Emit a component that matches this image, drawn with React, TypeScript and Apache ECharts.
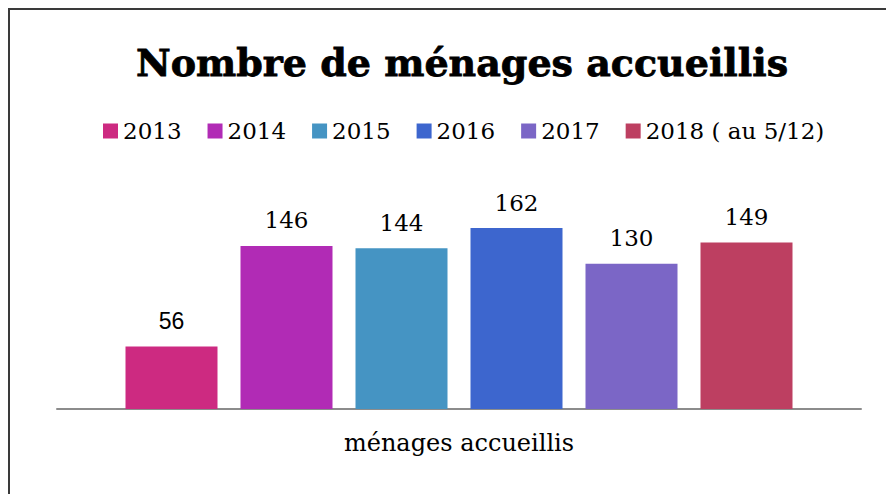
import React, { useEffect, useRef } from "react";
import * as echarts from "echarts";

const TITLE = "Nombre de ménages accueillis";
const CATEGORIES = ["ménages accueillis"];
const SERIES_NAMES = ["2013", "2014", "2015", "2016", "2017", "2018 ( au 5/12)"];
const SERIES_VALUES = [56, 146, 144, 162, 130, 149];
const COLORS = ["#CD2A81", "#B12BB5", "#4594C3", "#3D66CE", "#7B66C6", "#BD3F61"];

export default function App() {
  const ref = useRef<HTMLDivElement>(null);
  useEffect(() => {
    if (!ref.current) return;
    const chart = echarts.init(ref.current, null, { renderer: "svg" });
    const series = SERIES_NAMES.map((name, i) => ({
      name,
      type: "bar",
      data: [SERIES_VALUES[i]],
      barWidth: 92,
      barGap: "25%",
      itemStyle: { color: COLORS[i] },
      label: {
        show: true,
        position: "top",
        distance: 14,
        color: "#000",
        fontSize: 23,
        fontFamily: i === 0 ? "Liberation Sans" : "DejaVu Serif",
      },
    }));
    chart.setOption({
      animation: false,
      backgroundColor: "#fff",
      color: COLORS,
      title: {
        text: TITLE,
        left: 447,
        textAlign: "center",
        top: 28,
        textStyle: {
          fontFamily: "DejaVu Serif",
          fontWeight: 900,
          fontSize: 38,
          color: "#000",
          textBorderColor: "#000",
          textBorderWidth: 0.8,
        },
      },
      legend: {
        left: 88,
        top: 104,
        icon: "rect",
        itemWidth: 15,
        itemHeight: 15,
        itemGap: 26,
        textStyle: {
          fontFamily: "DejaVu Serif",
          fontSize: 23,
          lineHeight: 24,
          color: "#000",
        },
        data: SERIES_NAMES,
      },
      grid: { left: 47, width: 804, top: 198, height: 201 },
      xAxis: {
        type: "category",
        data: CATEGORIES,
        axisLine: { show: true, lineStyle: { color: "#8c8c8c", width: 2 } },
        axisTick: { show: false },
        axisLabel: {
          margin: 22,
          color: "#000",
          fontFamily: "DejaVu Serif",
          fontSize: 24,
        },
      },
      yAxis: {
        type: "value",
        min: 0,
        max: 180,
        show: false,
        splitLine: { show: false },
      },
      series,
    });
    return () => chart.dispose();
  }, []);
  return (
    <div
      style={{
        width: 886,
        height: 486,
        boxSizing: "border-box",
        borderLeft: "2px solid #3a3a3a",
        borderTop: "2px solid #3a3a3a",
        overflow: "hidden",
      }}
    >
      <div ref={ref} style={{ width: 884, height: 484 }} />
    </div>
  );
}
